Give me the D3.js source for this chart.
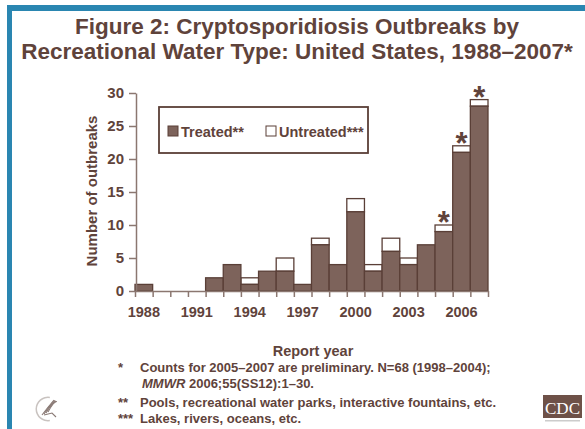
<!DOCTYPE html>
<html><head><meta charset="utf-8">
<script src="https://cdn.jsdelivr.net/npm/d3@7"></script>
<style>
html,body{margin:0;padding:0;background:#fff;}
svg{display:block;font-family:"Liberation Sans",Arial,sans-serif;}
</style></head>
<body>
<svg id="c" width="585" height="429"></svg>
<script>
const years = [1988,1989,1990,1991,1992,1993,1994,1995,1996,1997,1998,1999,2000,2001,2002,2003,2004,2005,2006,2007];
const treated = [1,0,0,0,2,4,1,3,3,1,7,4,12,3,6,4,7,9,21,28];
const untreated = [0,0,0,0,0,0,1,0,2,0,1,0,2,1,2,1,0,1,1,1];
const preliminary = [2005,2006,2007];
const yTicks = [0,5,10,15,20,25,30];
const xLabelYears = [1988,1991,1994,1997,2000,2003,2006];
const titleLines = ["Figure 2: Cryptosporidiosis Outbreaks by","Recreational Water Type: United States, 1988\u20132007*"];
const legendLabels = ["Treated**","Untreated***"];
const footnotes = [
  {mark:"*", text:"Counts for 2005\u20132007 are preliminary. N=68 (1998\u20132004);"},
  {mark:"", text:null},
  {mark:"**", text:"Pools, recreational water parks, interactive fountains, etc."},
  {mark:"***", text:"Lakes, rivers, oceans, etc."}
];

const TXT = "#5f433b", BAR = "#7d635b", EDGE = "#5a3f37", AXIS = "#8b7770", BLUE = "#2a86b1";
const FONT = "'Liberation Sans',Arial,sans-serif";
const svg = d3.select("#c");

// frame
svg.append("rect").attr("x",7).attr("y",5).attr("width",578).attr("height",6).attr("fill",BLUE);
svg.append("rect").attr("x",7).attr("y",5).attr("width",5).attr("height",424).attr("fill",BLUE);

// title
svg.append("g").selectAll("text").data(titleLines).join("text")
  .attr("x",297).attr("y",(d,i)=>34+i*25).attr("text-anchor","middle")
  .attr("font-size",22.5).attr("font-weight","bold").attr("fill",TXT).text(d=>d);

const x = d3.scaleBand().domain(years).range([135,488]).padding(0);
const xl = d3.scaleLinear().domain([1988,2008]).range([135,488]);
const y = d3.scaleLinear().domain([0,30]).range([291,93]);

// bars
const g = svg.append("g");
g.selectAll("rect.u").data(years).join("rect").attr("class","u")
  .filter((d,i)=>untreated[i]>0)
  .attr("x",d=>x(d)).attr("width",x.bandwidth())
  .attr("y",d=>{const i=years.indexOf(d);return y(treated[i]+untreated[i]);})
  .attr("height",d=>{const i=years.indexOf(d);return y(treated[i])-y(treated[i]+untreated[i]);})
  .attr("fill","#fff").attr("stroke",EDGE).attr("stroke-width",1.3);
g.selectAll("rect.t").data(years).join("rect").attr("class","t")
  .filter((d,i)=>treated[i]>0)
  .attr("x",d=>x(d)).attr("width",x.bandwidth())
  .attr("y",d=>y(treated[years.indexOf(d)]))
  .attr("height",d=>y(0)-y(treated[years.indexOf(d)]))
  .attr("fill",BAR).attr("stroke",EDGE).attr("stroke-width",1.3);

// asterisks
g.selectAll("text.ast").data(preliminary).join("text").attr("class","ast")
  .attr("x",d=>x(d)+x.bandwidth()/2)
  .attr("y",d=>{const i=years.indexOf(d);return y(treated[i]+untreated[i])+8;})
  .attr("text-anchor","middle").attr("font-size",31).attr("font-weight","bold")
  .attr("fill",TXT).text("*");

// y axis
const ya = svg.append("g").attr("transform","translate(136,0)")
  .call(d3.axisLeft(y).tickValues(yTicks).tickSize(7).tickPadding(5).tickSizeOuter(0));
ya.select(".domain").attr("stroke",AXIS).attr("stroke-width",1.5);
ya.selectAll(".tick line").attr("stroke",AXIS).attr("stroke-width",1.5);
ya.selectAll(".tick text").attr("font-size",15).attr("font-weight","bold").attr("fill",TXT)
  .attr("font-family",FONT);

// x axis ticks at band boundaries
const xa = svg.append("g").attr("transform","translate(0,291)")
  .call(d3.axisBottom(xl).tickValues(d3.range(1988,2009)).tickSize(6).tickFormat("").tickSizeOuter(0));
xa.select(".domain").attr("stroke",AXIS).attr("stroke-width",1.5);
xa.selectAll(".tick line").attr("stroke",AXIS).attr("stroke-width",1.5);
const xb = svg.append("g").attr("transform","translate(0,291)")
  .call(d3.axisBottom(x).tickValues(xLabelYears).tickSize(0).tickPadding(16));
xb.select(".domain").remove();
xb.selectAll(".tick text").attr("font-size",14.5).attr("font-weight","bold").attr("fill",TXT)
  .attr("font-family",FONT);

// axis titles
svg.append("text").attr("x",313).attr("y",356).attr("text-anchor","middle")
  .attr("font-size",14.5).attr("font-weight","bold").attr("fill",TXT).text("Report year");
svg.append("text").attr("transform","translate(97,191) rotate(-90)").attr("text-anchor","middle")
  .attr("font-size",15).attr("font-weight","bold").attr("fill",TXT).text("Number of outbreaks");

// legend
const lg = svg.append("g");
lg.append("rect").attr("x",159).attr("y",107).attr("width",209).attr("height",46)
  .attr("fill","#fff").attr("stroke",EDGE).attr("stroke-width",1.8);
const lx = [168,266];
legendLabels.forEach((l,i)=>{
  lg.append("rect").attr("x",lx[i]).attr("y",126).attr("width",10).attr("height",10)
    .attr("fill",i===0?BAR:"#fff").attr("stroke",EDGE).attr("stroke-width",1);
  lg.append("text").attr("x",lx[i]+13).attr("y",136.5).attr("font-size",14.5).attr("font-weight","bold")
    .attr("fill",TXT).text(l);
});

// footnotes
const fy = [372,388,407,423];
const fn = svg.append("g").attr("font-size",13).attr("font-weight","bold").attr("fill",TXT);
footnotes.forEach((f,i)=>{
  if(f.mark) fn.append("text").attr("x",118).attr("y",fy[i]).text(f.mark);
  if(f.text) fn.append("text").attr("x",140).attr("y",fy[i]).text(f.text);
});
const t2 = fn.append("text").attr("x",142).attr("y",fy[1]);
t2.append("tspan").attr("font-style","italic").text("MMWR");
t2.append("tspan").text(" 2006;55(SS12):1\u201330.");

// HHS logo (simplified)
const hl = svg.append("g").attr("transform","translate(48,409)");
hl.append("path").attr("d",d3.arc()({innerRadius:11,outerRadius:12.5,startAngle:Math.PI*0.95,endAngle:Math.PI*2.05}))
  .attr("fill","#c9c3c0");
[0,1,2,3].forEach(k=>{
  hl.append("path").attr("d",`M${-6+k*2},${6-k*1} Q${0+k*2},${-2-k*2} ${6+k*1},${-9+k*0.5}`)
    .attr("fill","none").attr("stroke","#8a7a75").attr("stroke-width",1.1);
});
hl.append("path").attr("d","M-4,6 L4,4 L8,8").attr("fill","none").attr("stroke","#8a7a75").attr("stroke-width",1.1);

// CDC logo
const cl = svg.append("g");
cl.append("rect").attr("x",543).attr("y",395).attr("width",39).attr("height",23).attr("fill","#6e5148");
cl.append("text").attr("x",562.5).attr("y",414).attr("text-anchor","middle").attr("font-size",17)
  .attr("font-family","'Liberation Serif',serif").attr("fill","#fff").text("CDC");
cl.append("rect").attr("x",545).attr("y",420).attr("width",35).attr("height",1.5).attr("fill","#ccc");
</script>
</body></html>
